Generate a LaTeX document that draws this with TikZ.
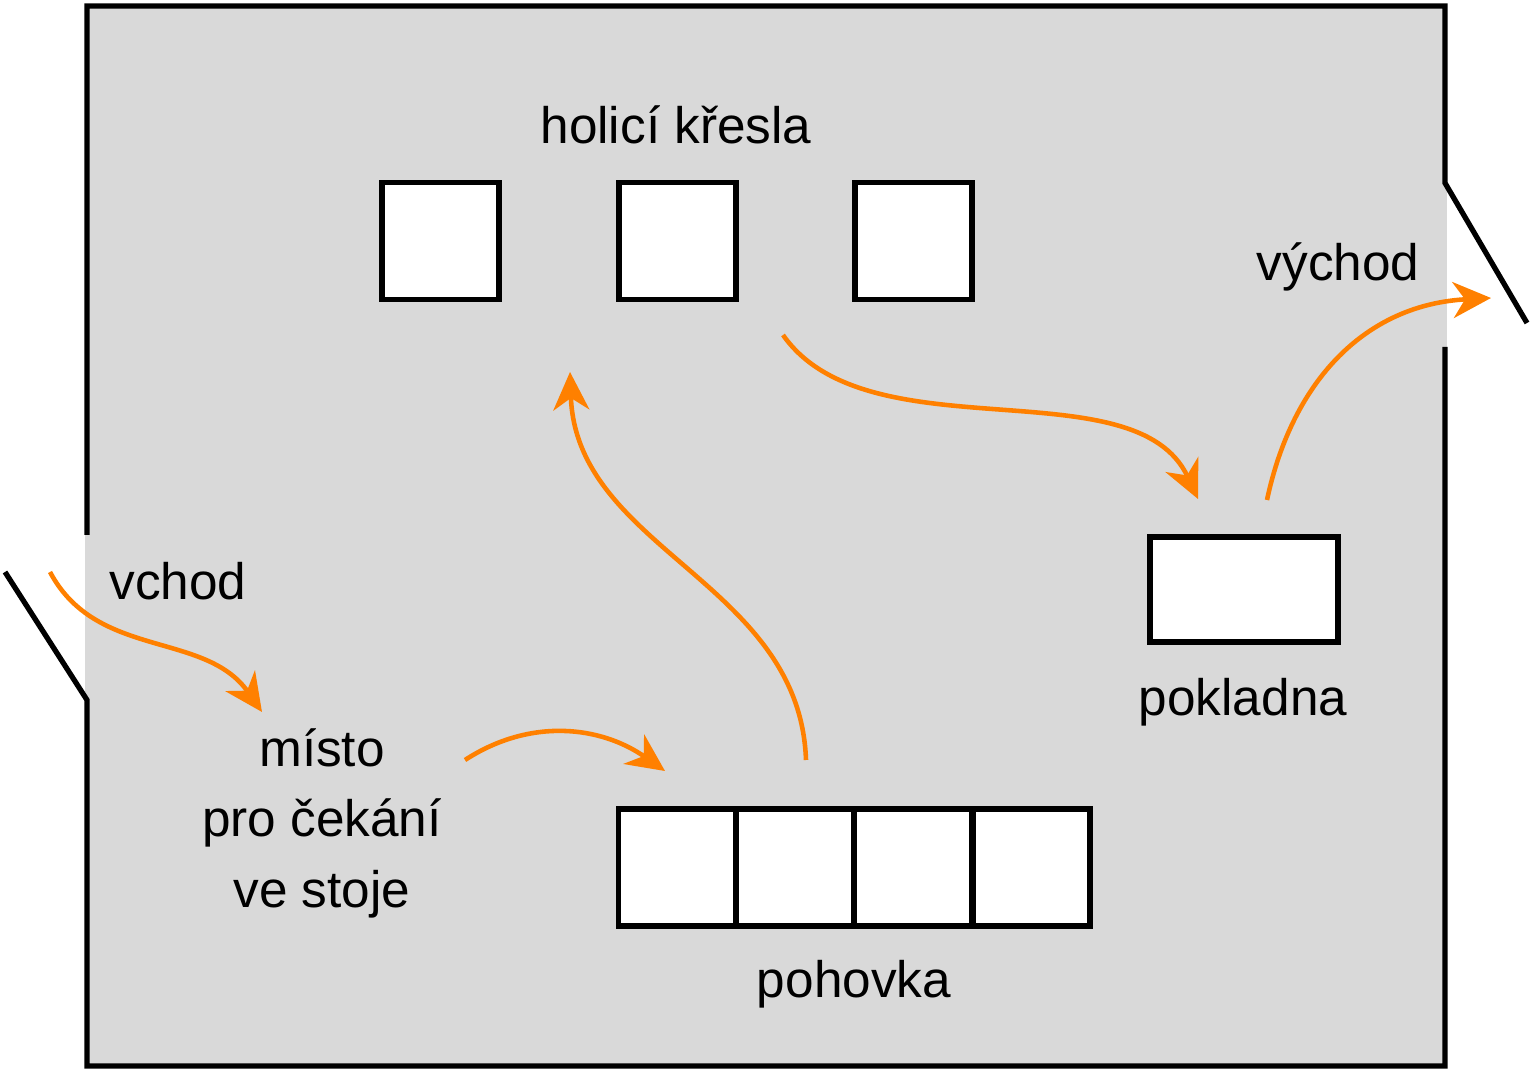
\documentclass[tikz,border=0pt]{standalone}
\usepackage{fontspec}
\setmainfont{Liberation Sans}
\usetikzlibrary{arrows.meta}
\definecolor{floorgray}{HTML}{D9D9D9}
\definecolor{walkorange}{HTML}{FF8000}
\begin{document}
\begin{tikzpicture}[x=0.01cm, y=-0.01cm,
            seat/.style={draw, fill=white, line width=1.5pt, minimum size=1.17cm, inner sep=0pt},
            wall/.style={line width=1.5pt, line join=miter},
            walk/.style={walkorange, line width=1.3pt, -{Stealth[length=3.8mm, width=3.6mm, inset=1.2mm]}},
            lbl/.style={anchor=base, font=\fontsize{14.6}{17}\selectfont, inner sep=0pt}
            ]
            \useasboundingbox (0,0) rectangle (1533,1071);
            \fill[floorgray] (85,6) rectangle (1447,1066);
            \draw[wall] (87,535) -- (87,6) -- (1445,6) -- (1445,183) -- (1527,323);
            \draw[wall] (1445,347) -- (1445,1066) -- (87,1066) -- (87,700) -- (5,572);

            \node[seat] (k1) at (440.5,241) {};
            \node[seat] (k2) at (677.5,241) {};
            \node[seat] (k3) at (913.5,241) {};
            \node[lbl] (kl) at (676,144) {holicí křesla};

            \node[seat, minimum width=1.88cm, minimum height=1.05cm] (pk) at (1244,589.5) {};
            \node[lbl] (pkl) at (1243,716) {pokladna};

            \node[seat] (s1) at (677,867.5) {};
            \node[seat] (s2) at (795,867.5) {};
            \node[seat] (s3) at (913,867.5) {};
            \node[seat] (s4) at (1031.5,867.5) {};
            \node[lbl] (sl) at (854,998) {pohovka};

            \node[lbl] (m1) at (322,767) {místo};
            \node[lbl] (m2) at (322,837) {pro čekání};
            \node[lbl] (m3) at (322,908) {ve stoje};
            \node[lbl] (vc) at (178,600) {vchod};
            \node[lbl] (vy) at (1338,281) {východ};

            \coordinate (a0) at (50,572);
            \coordinate (a1) at (262,712);
            \coordinate (b0) at (465,760);
            \coordinate (b1) at (665,771);
            \coordinate (c0) at (806,760);
            \coordinate (c1) at (570,372);
            \coordinate (d0) at (783,335);
            \coordinate (d1) at (1198,499);
            \coordinate (e0) at (1267,500);
            \coordinate (e1) at (1491,298);

            \draw[walk] (a0) to[out=-62, in=125] (a1);
            \draw[walk] (b0) to[out=33, in=145] (b1);
            \draw[walk] (c0) to[out=92, in=-88] (c1);
            \draw[walk] (d0) to[out=-55, in=115, looseness=0.85] (d1);
            \draw[walk] (e0) to[out=78, in=183, looseness=1.05] (e1);
\end{tikzpicture}
\end{document}
